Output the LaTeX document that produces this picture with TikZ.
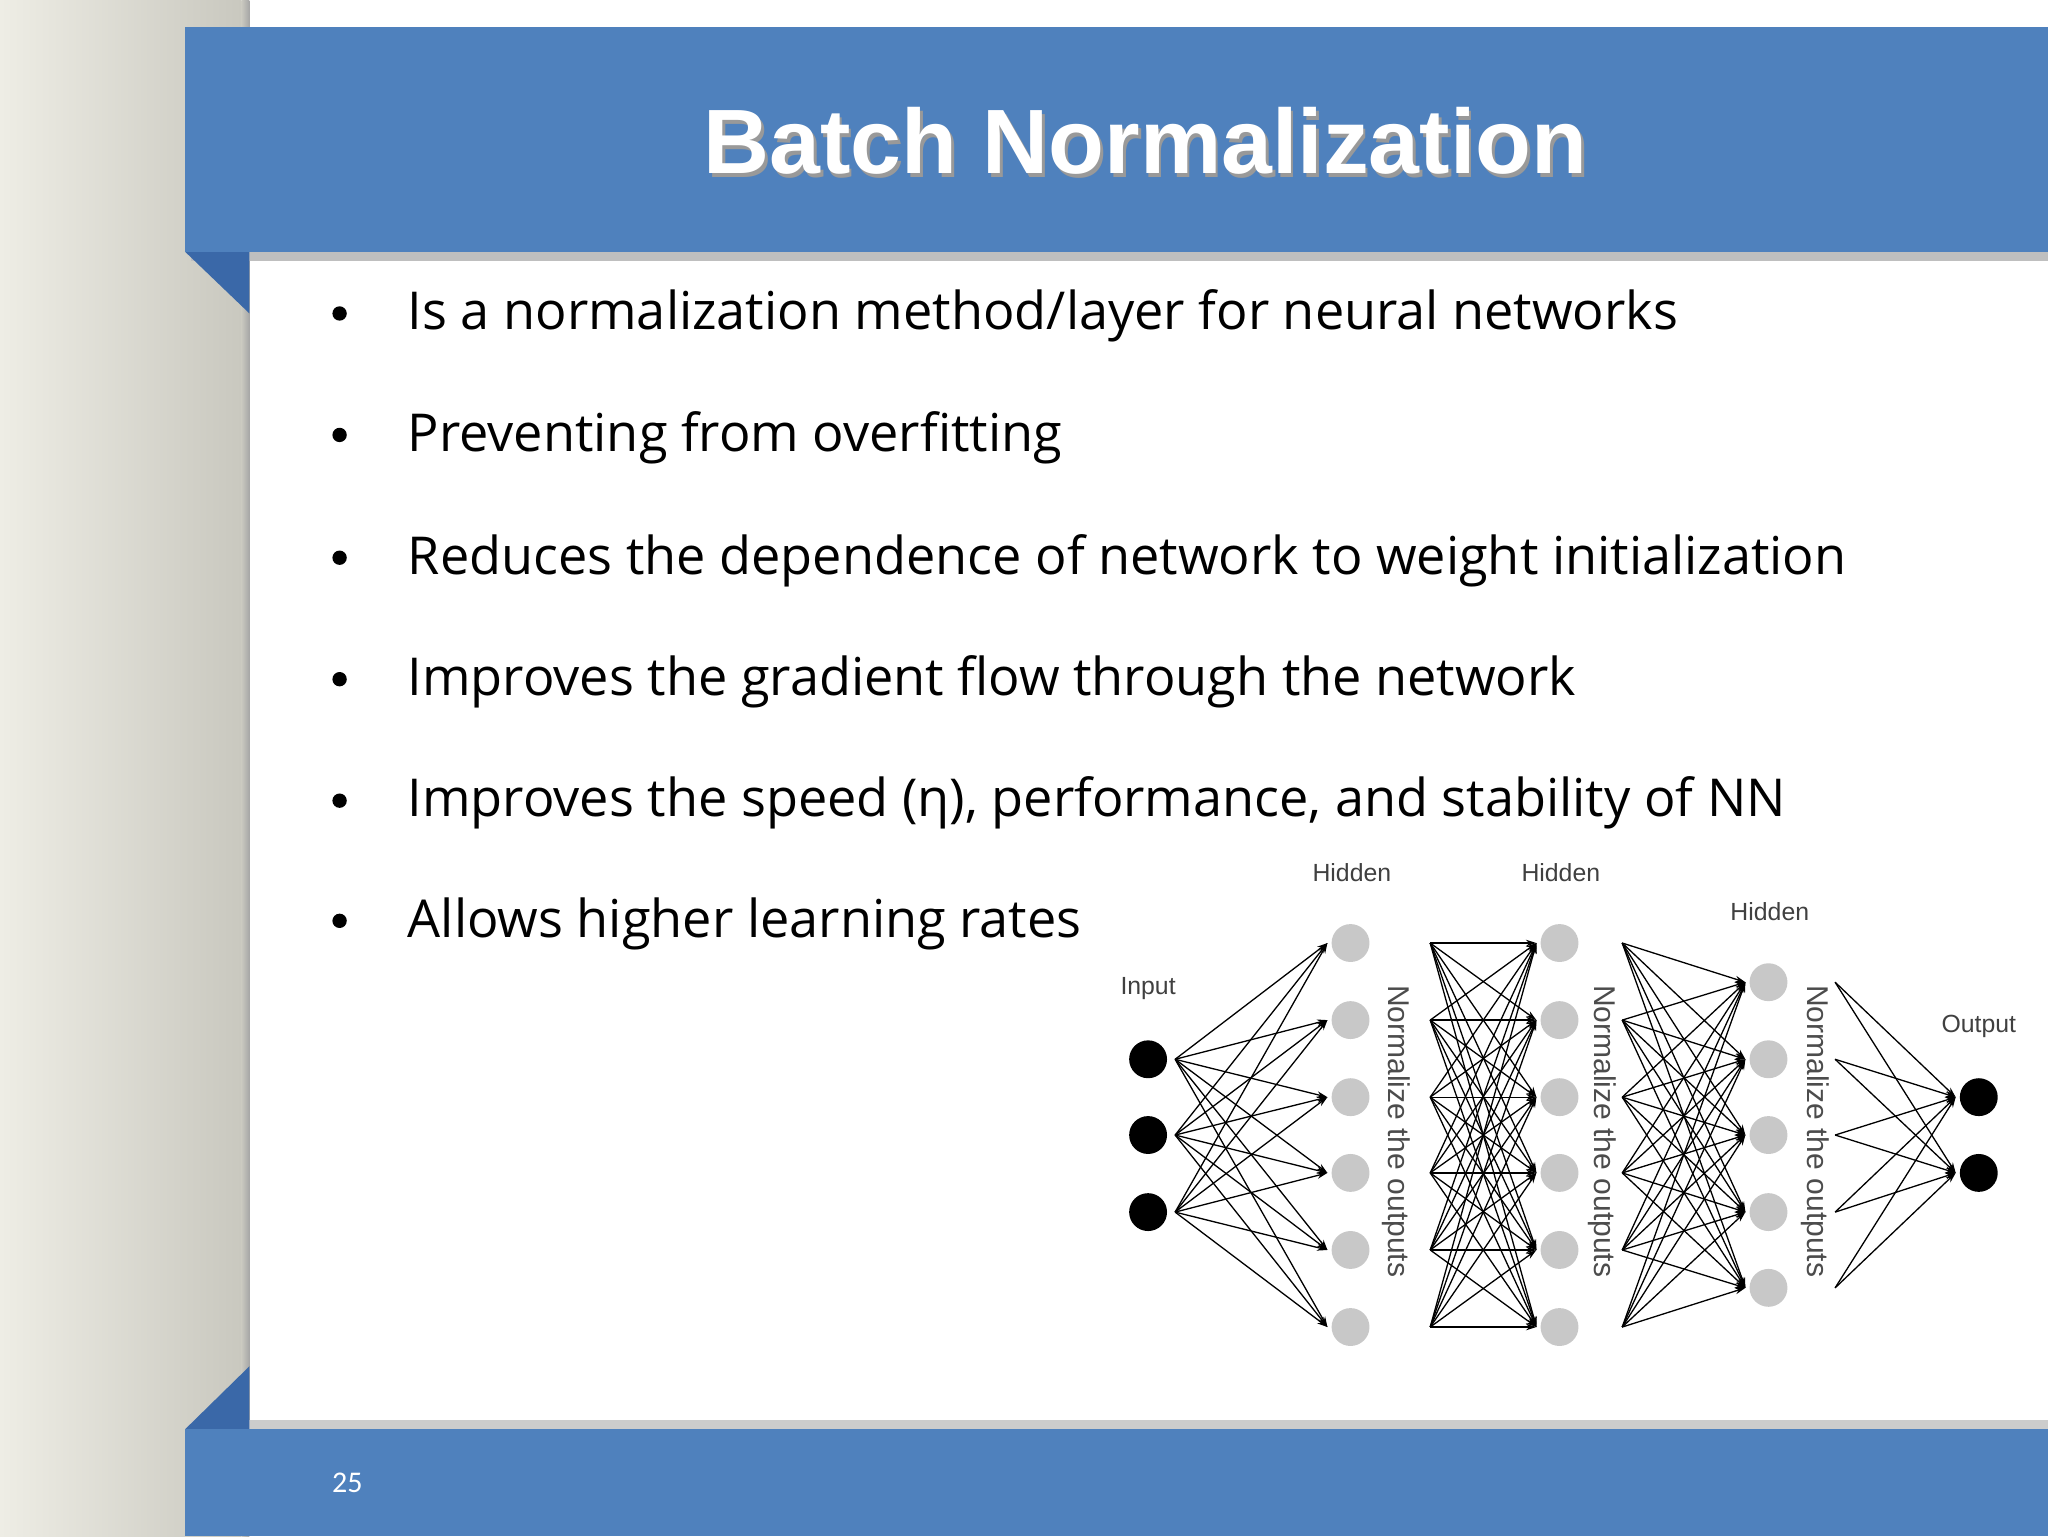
\documentclass[tikz,border=0pt]{standalone}
\usepackage{fontspec}
\setmainfont[Ligatures=NoCommon]{Open Sans}
\newfontfamily\arialf{Liberation Sans}
\newfontfamily\carl{Carlito}
\usetikzlibrary{arrows.meta}
\definecolor{band}{HTML}{4F81BD}
\definecolor{fold}{HTML}{3A68A8}
\definecolor{pgL}{HTML}{EEEDE5}
\definecolor{pgR}{HTML}{C9C8BF}
\definecolor{hid}{HTML}{C8C8C8}
\tikzset{
 bul/.style={anchor=west,font=\fontsize{40}{44}\selectfont,inner sep=0},
 inn/.style={circle,fill=black,minimum size=29pt,inner sep=0},
 hn/.style={circle,fill=hid,minimum size=29pt,inner sep=0},
 lbl/.style={font=\arialf\fontsize{19}{20}\selectfont,text=black!75},
 nrm/.style={font=\arialf\fontsize{23}{24}\selectfont,text=black!70,rotate=-90},
 ar/.style={-{Stealth[length=8pt,width=5pt]},line width=1pt}
}
\begin{document}
\begin{tikzpicture}[x=1pt,y=-1pt]
\useasboundingbox (0,0) rectangle (1568,1176);
\fill[white] (0,0) rectangle (1568,1176);
\shade[left color=pgL,right color=pgR] (0,0) rectangle (185,1176);
\shade[left color=pgR,right color=black!35] (185,0) rectangle (191,1176);
% title band
\fill[black!25] (146,193) rectangle (1568,200);
\fill[band] (142,21) rectangle (1568,193);
\fill[fold] (142,193) -- (191,193) -- (191,240) -- cycle;
\node[font=\arialf\bfseries\fontsize{70}{74}\selectfont,text=black!40] at (879,111) {Batch Normalization};
\node[font=\arialf\bfseries\fontsize{70}{74}\selectfont,text=white] (title) at (877,108) {Batch Normalization};
% bottom band
\fill[black!20] (146,1087) rectangle (1568,1094);
\fill[band] (142,1094) rectangle (1568,1176);
\fill[fold] (142,1094) -- (191,1094) -- (191,1046) -- cycle;
\node[font=\carl\fontsize{23}{24}\selectfont,text=white] (pn) at (266,1135) {25};
% bullets
\foreach \y/\t [count=\i] in {242/{Is a normalization method/layer for neural networks},
 335/{Preventing from overfitting},
 429/{Reduces the dependence of network to weight initialization},
 522/{Improves the gradient flow through the network},
 615/{Improves the speed (η), performance, and stability of NN},
 707/{Allows higher learning rates}}{
 \fill (260,\y-2) circle (5.5pt);
 \node[bul] (b\i) at (312,\y) {\t};
}
% network nodes
\foreach \y [count=\i] in {811,869,928} \node[inn] (i\i) at (879,\y) {};
\foreach \y [count=\i] in {722,781,840,898,957,1016} {
 \node[hn] (h\i) at (1034,\y) {};
 \node[hn] (g\i) at (1194,\y) {};
 \coordinate (hs\i) at (1095,\y);
 \coordinate (gs\i) at (1242,\y);
}
\foreach \y [count=\i] in {752,811,869,928,986} {
 \node[hn] (k\i) at (1354,\y) {};
 \coordinate (ks\i) at (1405,\y);
}
\foreach \y [count=\i] in {840,898} \node[inn] (o\i) at (1515,\y) {};
% labels
\node[lbl] (lin) at (879,757) {Input};
\node[lbl] (lh1) at (1035,668) {Hidden};
\node[lbl] (lh2) at (1195,668) {Hidden};
\node[lbl] (lh3) at (1355,698) {Hidden};
\node[lbl] (lout) at (1515,786) {Output};
\node[nrm] (n1) at (1069,866) {Normalize the outputs};
\node[nrm] (n2) at (1227,866) {Normalize the outputs};
\node[nrm] (n3) at (1390,866) {Normalize the outputs};
% connections
\foreach \a in {1,2,3} \foreach \b in {1,...,6}
 \draw[ar] ([xshift=6pt]i\a.east) -- ([xshift=-3pt]h\b.west);
\foreach \a in {1,...,6} \foreach \b in {1,...,6}
 \draw[ar] (hs\a) -- ([xshift=-3pt]g\b.west);
\foreach \a in {1,...,6} \foreach \b in {1,...,5}
 \draw[ar] (gs\a) -- ([xshift=-3pt]k\b.west);
\foreach \a in {1,...,5} \foreach \b in {1,2}
 \draw[ar] (ks\a) -- ([xshift=-3pt]o\b.west);
\end{tikzpicture}
\end{document}
